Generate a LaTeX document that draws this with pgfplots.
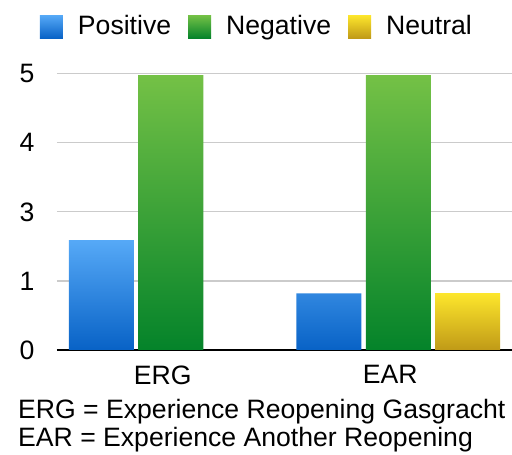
\documentclass[border=0pt]{standalone}
\usepackage{pgfplots}
\pgfplotsset{compat=1.18}
\usepackage{fontspec}
\setmainfont{Liberation Sans}

\definecolor{posTop}{HTML}{56A9F7}
\definecolor{posBot}{HTML}{0862C6}
\definecolor{negTop}{HTML}{74C146}
\definecolor{negBot}{HTML}{04832A}
\definecolor{neuTop}{HTML}{FDE62C}
\definecolor{neuBot}{HTML}{C09A17}
\definecolor{gridgray}{HTML}{CBCBCB}

\newcommand{\chartfont}{\fontsize{26.6}{28}\selectfont}

\begin{document}
\begin{tikzpicture}
% page frame: 512 x 455, axis origin sits 57 in from the left and 105 up from the bottom
\path[use as bounding box] (-57pt,-105pt) rectangle (455pt,350pt);
\begin{axis}[
  at={(0pt,0pt)}, anchor=south west,
  scale only axis,
  width=455pt, height=276.3pt,
  xmin=-0.5, xmax=1.5,
  ymin=0, ymax=4,
  xtick={0,1},
  xticklabels={ERG,EAR},
  ytick={0,1,2,3,4},
  yticklabels={0,1,3,4,5},
  major tick length=0pt,
  ymajorgrids,
  grid style={gridgray, line width=1.2pt},
  axis lines*=left,
  x axis line style={black, line width=1.5pt},
  y axis line style={draw=none},
  /pgf/number format/assume math mode=true,
  tick label style={font=\chartfont},
  yticklabel style={xshift=-19pt},
  xticklabel style={yshift=-12pt, xshift=-8pt},
  ybar, bar width=65pt,
  legend columns=3,
  legend style={
    draw=none, fill=none,
    at={(axis description cs:0,1)}, anchor=north west,
    xshift=-17pt, yshift=58.5pt,
    font=\chartfont,
    inner sep=0pt, outer sep=0pt,
    nodes={inner sep=0pt},
    /tikz/every odd column/.append style={column sep=15pt},
    /tikz/every even column/.append style={column sep=17pt},
  },
  legend image code/.code={\fill[#1] (0pt,-12.5pt) rectangle (23pt,10.5pt);},
]
\addplot[draw=none, top color=posTop, bottom color=posBot, bar shift=-69.3pt]
  coordinates {(0,1.59) (1,0.82)};
\addlegendentry{Positive}
\addplot[draw=none, top color=negTop, bottom color=negBot, bar shift=0pt]
  coordinates {(0,3.98) (1,3.98)};
\addlegendentry{Negative}
\addplot[draw=none, top color=neuTop, bottom color=neuBot, bar shift=69.3pt]
  coordinates {(1,0.82)};
\addlegendentry{Neutral}
\end{axis}
\node[anchor=base west, font=\chartfont, inner sep=0pt] at (-39pt,-69pt)
  {ERG = Experience Reopening Gasgracht};
\node[anchor=base west, font=\chartfont, inner sep=0pt] at (-39pt,-97pt)
  {EAR = Experience Another Reopening};
\end{tikzpicture}
\end{document}
